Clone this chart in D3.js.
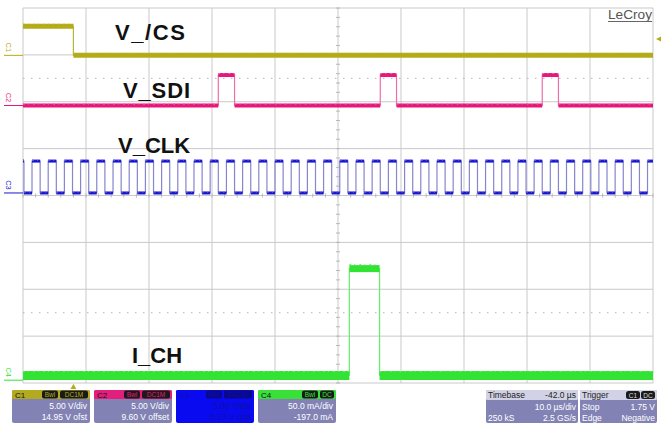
<!DOCTYPE html>
<html><head><meta charset="utf-8">
<script src="https://cdn.jsdelivr.net/npm/d3@7"></script>
<style>html,body{margin:0;padding:0;background:#fff;overflow:hidden}svg{display:block;font-family:"Liberation Sans",Arial,sans-serif}</style>
</head><body><svg id="c" width="662" height="423"></svg>
<script>
// ---------------- data ----------------
const timeDomain = [-8, 92];          // µs across the 10 divisions
const timePerDiv = 10;                // µs/div
const divsY = [-4, 4];                // 8 vertical divisions
const channelNames = ["C1", "C2", "C3", "C4"];
const channelLabels = ["V_/CS", "V_SDI", "V_CLK", "I_CH"];
const unitsPerDiv = [5, 5, 5, 50];            // V/div, V/div, V/div, mA/div
const channelOffsets = [14.95, 9.60, 0.27, -197.0];

// C1  chip select (V)
const csTimes  = [-8, 0];
const csLevels = [3.1, 0];
// C2  serial data (V)
const sdiTimes  = [-8, 23.00, 25.58, 48.71, 51.29, 74.42, 76.99];
const sdiLevels = [0, 3.25, 0, 3.25, 0, 3.25, 0];
// C3  clock (V): rising / falling edge times (µs)
const clkRise = [-6.57,-4.00,-1.43,1.14,3.71,6.29,8.86,11.43,14.00,16.57,19.14,21.71,24.29,26.86,29.43,32.00,34.57,37.14,39.71,42.28,44.85,47.42,50.00,52.57,55.14,57.71,60.28,62.85,65.42,67.99,70.56,73.13,75.70,78.27,80.84,83.41,85.99,88.56,91.13];
const clkFall = [-7.85,-5.28,-2.71,-0.14,2.43,5.00,7.58,10.15,12.72,15.29,17.86,20.43,23.00,25.58,28.15,30.72,33.29,35.86,38.43,41.00,43.57,46.14,48.71,51.29,53.86,56.43,59.00,61.57,64.14,66.71,69.28,71.85,74.42,76.99,79.56,82.13,84.70,87.28,89.85];
const clkHigh = 3.4, clkLow = 0;
// C4  channel current (mA)
const chTimes  = [-8, 43.8, 48.6];
const chLevels = [5, 119, 5];

// info panel texts
const chanBoxHeads = [["C1","Bwl","DC1M"],["C2","Bwl","DC1M"],["C3","Bwl","DC1M"],["C4","Bwl","DC"]];
const chanBoxLines = [["5.00 V/div","14.95 V ofst"],["5.00 V/div","9.60 V offset"],["5.00 V/div","0.27 V ofst"],["50.0 mA/div","-197.0 mA"]];
const timebaseText = ["Timebase","-42.0 µs","10.0 µs/div","250 kS","2.5 GS/s"];
const triggerText = ["Trigger","C1","DC","Stop","1.75 V","Edge","Negative"];
const triggerLevel = 1.75;   // V on C1
const triggerTime = 0;

// ---------------- layout / style ----------------
const L = 23, R = 653, T = 8, B = 383;
const colors = ["#b3ac17", "#e8177c", "#1818d2", "#33e333"];
const edgeColors = ["#b8b440", "#ee6fa8", "#8585d0", "#66ee66"];
const bandW = [5, 4, 3, 9];
const headBg = ["#b4aa20", "#e2207c", "#0a0af0", "#38e038"];
const bodyBg = "#8282b4";

const svg = d3.select("#c");
const x = d3.scaleLinear().domain(timeDomain).range([L, R]);
const yDiv = d3.scaleLinear().domain(divsY).range([B, T]);
const yCh = channelNames.map((n, i) => d3.scaleLinear()
  .domain([divsY[0] * unitsPerDiv[i] - channelOffsets[i], divsY[1] * unitsPerDiv[i] - channelOffsets[i]])
  .range([B, T]));

// ---------- grid ----------
const grid = svg.append("g");
const xDivs = d3.range(0, 11).map(i => timeDomain[0] + i * timePerDiv);
const yDivs = d3.range(divsY[0], divsY[1] + 1);
grid.selectAll(".gv").data(xDivs).join("line")
  .attr("x1", d => x(d)).attr("x2", d => x(d)).attr("y1", T).attr("y2", B)
  .attr("stroke", "#c9c9c9").attr("stroke-width", 1);
grid.selectAll(".gh").data(yDivs).join("line")
  .attr("x1", L).attr("x2", R).attr("y1", d => yDiv(d)).attr("y2", d => yDiv(d))
  .attr("stroke", "#c9c9c9").attr("stroke-width", 1);
grid.selectAll(".gd").data([2.5, -2.5]).join("line")
  .attr("x1", L).attr("x2", R).attr("y1", d => yDiv(d)).attr("y2", d => yDiv(d))
  .attr("stroke", "#b5b5b5").attr("stroke-width", 1).attr("stroke-dasharray", "1.5,6.5");
const xc = x(timeDomain[0] + 5 * timePerDiv), yc = yDiv(0);
grid.selectAll(".tv").data(d3.range(-20, 21)).join("line")
  .attr("x1", xc - 2).attr("x2", xc + 2).attr("y1", d => yDiv(d / 5)).attr("y2", d => yDiv(d / 5))
  .attr("stroke", "#b8b8b8");
grid.selectAll(".th").data(d3.range(0, 51)).join("line")
  .attr("y1", yc - 2).attr("y2", yc + 2).attr("x1", d => x(timeDomain[0] + d * 2)).attr("x2", d => x(timeDomain[0] + d * 2))
  .attr("stroke", "#b8b8b8");

// ---------- traces ----------
function pointsFrom(times, levels) {
  const pts = times.map((t, i) => [t, levels[i]]);
  pts.push([timeDomain[1], levels[levels.length - 1]]);
  return pts;
}
const clkEdges = clkRise.map(t => [t, clkHigh]).concat(clkFall.map(t => [t, clkLow])).sort((a, b) => a[0] - b[0]);
const clkTimes = [timeDomain[0]].concat(clkEdges.map(d => d[0]));
const clkLevels = [clkHigh].concat(clkEdges.map(d => d[1]));

const traces = [
  pointsFrom(csTimes, csLevels),
  pointsFrom(sdiTimes, sdiLevels),
  pointsFrom(clkTimes, clkLevels),
  pointsFrom(chTimes, chLevels)
];
const order = [3, 2, 1, 0];
order.forEach(i => {
  const y = yCh[i];
  const g = svg.append("g");
  const line = d3.line().x(d => x(d[0])).y(d => y(d[1])).curve(d3.curveStepAfter);
  g.append("path").attr("d", line(traces[i])).attr("fill", "none")
    .attr("stroke", edgeColors[i]).attr("stroke-width", 1.2);
  const segs = d3.pairs(traces[i]);
  g.selectAll("line").data(segs).join("line")
    .attr("x1", d => x(d[0][0])).attr("x2", d => x(d[1][0]))
    .attr("y1", d => y(d[0][1])).attr("y2", d => y(d[0][1]))
    .attr("stroke", colors[i]).attr("stroke-width", d => (i === 3 && d[0][1] > 50) ? 7 : bandW[i]);
  // slight texture on the noisy band
  g.selectAll("line.tx").data(segs).join("line").attr("class", "tx")
    .attr("x1", d => x(d[0][0])).attr("x2", d => x(d[1][0]))
    .attr("y1", d => y(d[0][1]) - bandW[i] / 2 + 0.5).attr("y2", d => y(d[0][1]) - bandW[i] / 2 + 0.5)
    .attr("stroke", edgeColors[i]).attr("stroke-width", 1).attr("stroke-dasharray", "2,3,1,4");
});

// ---------- channel ground markers on the left ----------
channelNames.forEach((n, i) => {
  const gy = yCh[i](0);
  svg.append("line").attr("x1", 4).attr("x2", L).attr("y1", gy).attr("y2", gy)
    .attr("stroke", colors[i]).attr("stroke-width", 1);
  svg.append("text").attr("transform", `translate(6,${gy - 8}) rotate(90)`)
    .attr("font-size", 7.5).attr("fill", colors[i]).attr("text-anchor", "middle").text(n);
});

// ---------- big labels ----------
const labelPos = [[115, 40, 70], [123, 98, 67], [118, 153, null], [132, 363, null]];
channelLabels.forEach((t, i) => {
  const tx = svg.append("text").attr("x", labelPos[i][0]).attr("y", labelPos[i][1])
    .attr("font-size", 22).attr("font-weight", "bold").attr("fill", "#111").text(t);
  if (labelPos[i][2]) tx.attr("textLength", labelPos[i][2]).attr("lengthAdjust", "spacing");
});

// LeCroy logo
svg.append("text").attr("x", 608).attr("y", 19).attr("font-size", 12).attr("fill", "#555")
  .attr("textLength", 44).attr("lengthAdjust", "spacingAndGlyphs").text("LeCroy");
svg.append("line").attr("x1", 608).attr("x2", 652).attr("y1", 21.5).attr("y2", 21.5).attr("stroke", "#666");

// trigger level arrow (right) and trigger position (bottom)
const tly = yCh[0](triggerLevel);
svg.append("path").attr("d", `M${R + 3},${tly} l5,-2.5 l0,5 z`).attr("fill", colors[0]);
const tpx = x(triggerTime);
svg.append("path").attr("d", `M${tpx},${B + 1} l-3,5 l6,0 z`).attr("fill", colors[0]);

// ---------- info panel ----------
const boxY = 390, headH = 9, boxH = 33;
const boxX = [12, 94, 176, 258], boxW = 78;
chanBoxHeads.forEach((h, i) => {
  const g = svg.append("g").attr("transform", `translate(${boxX[i]},${boxY})`);
  const isHidden = i === 2;
  g.append("rect").attr("width", boxW).attr("height", boxH).attr("rx", 2).attr("fill", isHidden ? headBg[i] : bodyBg);
  g.append("rect").attr("width", boxW).attr("height", headH).attr("rx", 1.5).attr("fill", headBg[i]);
  const txtCol = isHidden ? "#10109a" : "#fff";
  g.append("text").attr("x", 3).attr("y", 7.5).attr("font-size", 8).attr("fill", isHidden ? "#10109a" : "#111").text(h[0]);
  const bx = [boxW - 48, boxW - 30], bw = [16, 28];
  const bwUse = h[2] === "DC" ? [16, 14] : bw;
  const bxUse = h[2] === "DC" ? [boxW - 34, boxW - 16] : bx;
  [h[1], h[2]].forEach((b, k) => {
    g.append("rect").attr("x", bxUse[k]).attr("y", 0.5).attr("width", bwUse[k]).attr("height", headH - 1).attr("rx", 2)
      .attr("fill", isHidden ? "#0a0a88" : "#1a1a1a");
    g.append("text").attr("x", bxUse[k] + bwUse[k] / 2).attr("y", 7.2).attr("font-size", 6.5).attr("text-anchor", "middle")
      .attr("fill", isHidden ? "#0a0ab0" : colors[i]).text(b);
  });
  chanBoxLines[i].forEach((t, k) => {
    g.append("text").attr("x", boxW - 3).attr("y", 19 + k * 11).attr("font-size", 8.5).attr("text-anchor", "end")
      .attr("fill", txtCol).text(t);
  });
});

// timebase box
(function () {
  const g = svg.append("g").attr("transform", `translate(486,${boxY})`);
  const w = 92;
  g.append("rect").attr("width", w).attr("height", boxH).attr("rx", 2).attr("fill", bodyBg);
  g.append("rect").attr("width", w).attr("height", headH + 1).attr("rx", 1.5).attr("fill", "#d2d2e6");
  g.append("text").attr("x", 2).attr("y", 8).attr("font-size", 8.5).attr("fill", "#222").text(timebaseText[0]);
  g.append("text").attr("x", w - 2).attr("y", 8).attr("font-size", 8.5).attr("text-anchor", "end").attr("fill", "#222").text(timebaseText[1]);
  g.append("text").attr("x", w - 2).attr("y", 20).attr("font-size", 8.5).attr("text-anchor", "end").attr("fill", "#fff").text(timebaseText[2]);
  g.append("text").attr("x", 2).attr("y", 31).attr("font-size", 8.5).attr("fill", "#fff").text(timebaseText[3]);
  g.append("text").attr("x", w - 2).attr("y", 31).attr("font-size", 8.5).attr("text-anchor", "end").attr("fill", "#fff").text(timebaseText[4]);
})();
// trigger box
(function () {
  const g = svg.append("g").attr("transform", `translate(580,${boxY})`);
  const w = 77;
  g.append("rect").attr("width", w).attr("height", boxH).attr("rx", 2).attr("fill", bodyBg);
  g.append("rect").attr("width", w).attr("height", headH + 1).attr("rx", 1.5).attr("fill", "#d2d2e6");
  g.append("text").attr("x", 2).attr("y", 8).attr("font-size", 8.5).attr("fill", "#222").text(triggerText[0]);
  [[w - 31, triggerText[1]], [w - 16, triggerText[2]]].forEach(([bx, t]) => {
    g.append("rect").attr("x", bx).attr("y", 1).attr("width", 14).attr("height", 8).attr("rx", 2.5).attr("fill", "#1a1a1a");
    g.append("text").attr("x", bx + 7).attr("y", 7.5).attr("font-size", 6.5).attr("text-anchor", "middle").attr("fill", "#ddd").text(t);
  });
  g.append("text").attr("x", 2).attr("y", 20).attr("font-size", 8.5).attr("fill", "#fff").text(triggerText[3]);
  g.append("text").attr("x", w - 2).attr("y", 20).attr("font-size", 8.5).attr("text-anchor", "end").attr("fill", "#fff").text(triggerText[4]);
  g.append("text").attr("x", 2).attr("y", 31).attr("font-size", 8.5).attr("fill", "#fff").text(triggerText[5]);
  g.append("text").attr("x", w - 2).attr("y", 31).attr("font-size", 8.5).attr("text-anchor", "end").attr("fill", "#fff").text(triggerText[6]);
})();
</script></body></html>
